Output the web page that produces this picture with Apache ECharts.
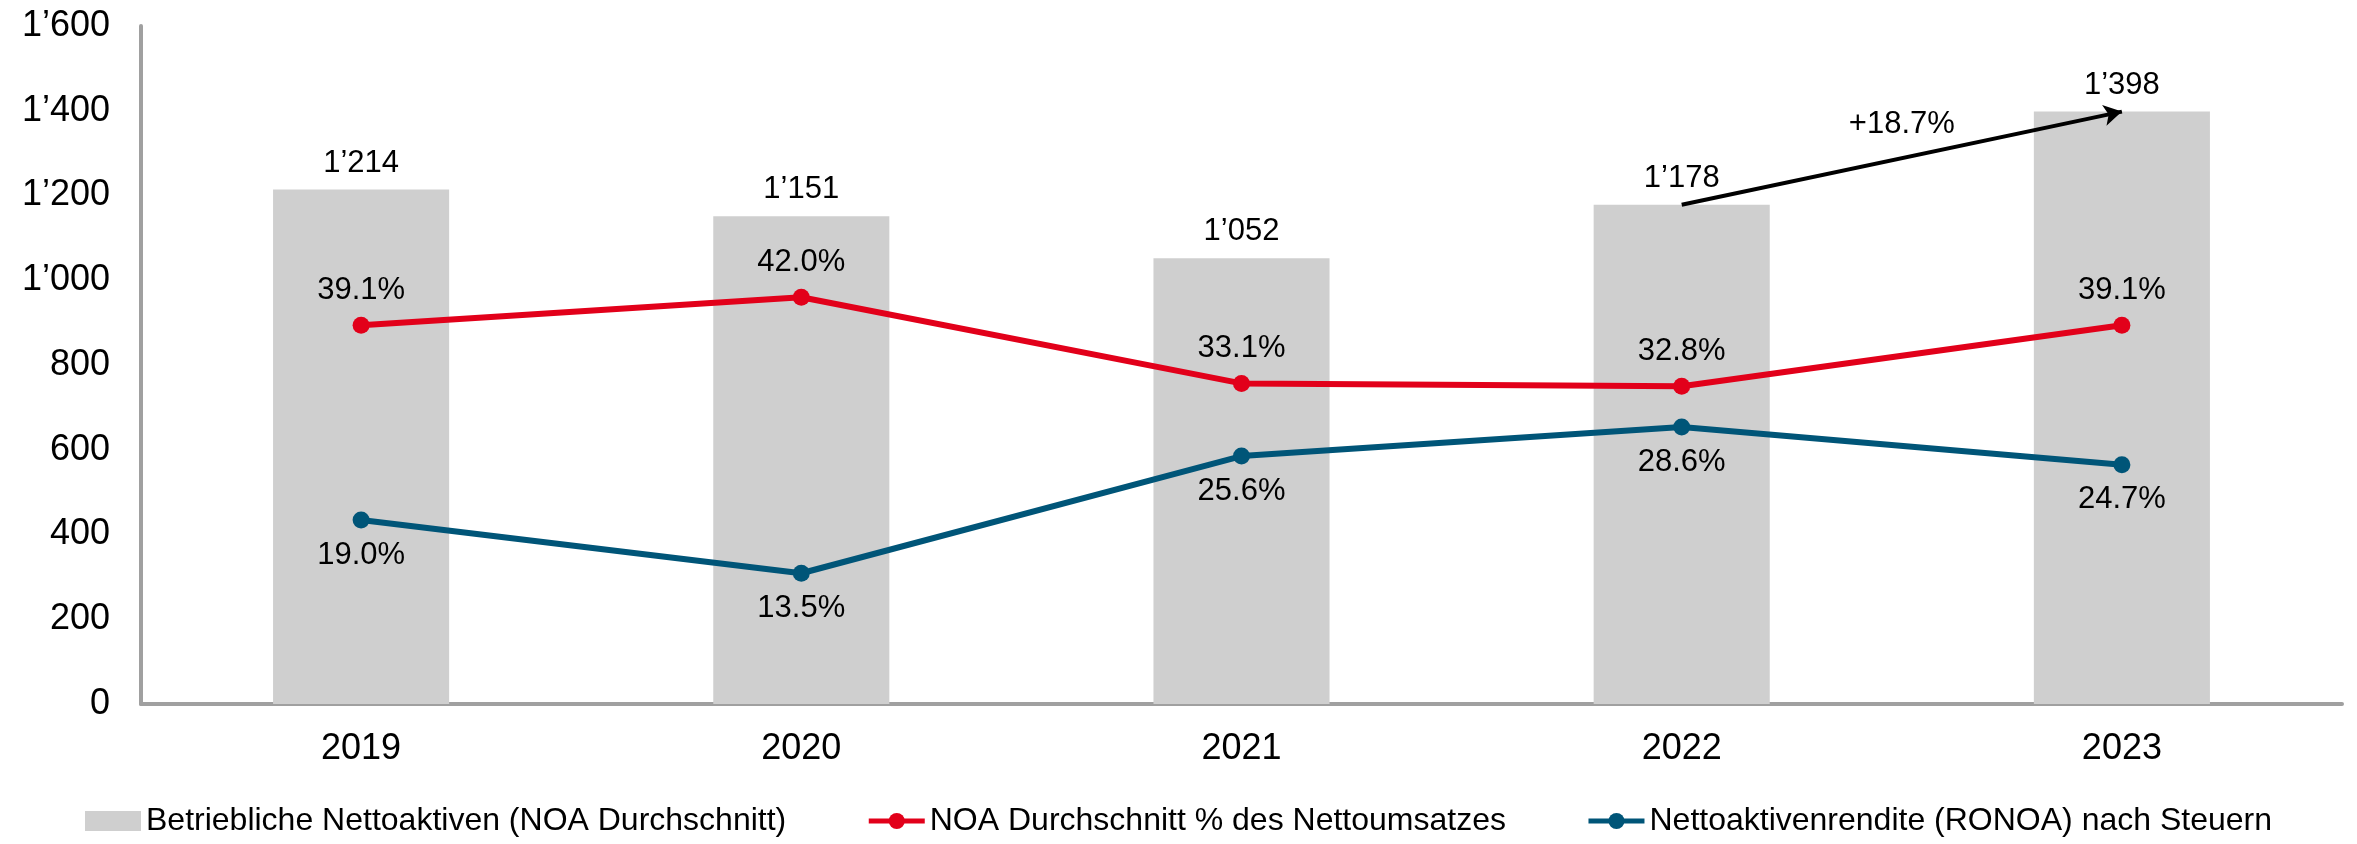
<!DOCTYPE html>
<html>
<head>
<meta charset="utf-8">
<script src="https://cdn.jsdelivr.net/npm/echarts@6/dist/echarts.min.js"></script>
<style>
html, body { margin: 0; padding: 0; background: #fff; }
#main { width: 2357px; height: 844px; }
</style>
</head>
<body>
<div id="main"></div>
<script>
// Jahre
var years = ['2019', '2020', '2021', '2022', '2023'];
// Betriebliche Nettoaktiven (NOA Durchschnitt)
var noaValues = [1214, 1151, 1052, 1178, 1398];
// NOA Durchschnitt % des Nettoumsatzes
var noaPctValues = [39.1, 42.0, 33.1, 32.8, 39.1];
// Nettoaktivenrendite (RONOA) nach Steuern
var ronoaValues = [19.0, 13.5, 25.6, 28.6, 24.7];
// Wachstum 2022 -> 2023
var growthLabel = '+18.7%';

var seriesNames = [
    'Betriebliche Nettoaktiven (NOA Durchschnitt)',
    'NOA Durchschnitt % des Nettoumsatzes',
    'Nettoaktivenrendite (RONOA) nach Steuern'
];

var FONT = '"Liberation Sans", Arial, sans-serif';
var RED = '#e2001a';
var BLUE = '#005578';
var GREY = '#cfcfcf';
var AXIS = '#a0a0a0';

//Tausendertrennzeichen
function fmt(v) {
    if (v >= 1000) {
        return Math.floor(v / 1000) + '\u2019' + String(v % 1000).padStart(3, '0');
    }
    return String(v);
}

function pct(p) {
    return p.value.toFixed(1) + '%';
}

var chart = echarts.init(document.getElementById('main'));

var option = {
    animation: false,
    textStyle: { fontFamily: FONT, color: '#000' },
    grid: { left: 141, right: 15, top: 26, bottom: 140, containLabel: false },
    legend: {
        bottom: 2,
        left: 'center',
        itemWidth: 56,
        itemHeight: 20,
        itemGap: 80,
        textStyle: { fontSize: 32, color: '#000', fontFamily: FONT },
        data: [
            { name: seriesNames[0], icon: 'rect' },
            { name: seriesNames[1], lineStyle: { width: 5 } },
            { name: seriesNames[2], lineStyle: { width: 5 } }
        ]
    },
    xAxis: {
        type: 'category',
        data: years,
        axisLine: { lineStyle: { color: AXIS, width: 4 } },
        axisTick: { show: false },
        axisLabel: { fontSize: 36, color: '#000', margin: 27, fontFamily: FONT }
    },
    yAxis: [{
        type: 'value',
        min: 0,
        max: 1600,
        interval: 200,
        splitLine: { show: false },
        axisLine: { show: true, lineStyle: { color: AXIS, width: 4 } },
        axisTick: { show: false },
        axisLabel: { fontSize: 36, color: '#000', margin: 31, fontFamily: FONT, formatter: fmt }
    }, {
        type: 'value',
        min: 0,
        max: 70,
        show: false,
        splitLine: { show: false }
    }],
    series: [{
        name: seriesNames[0],
        type: 'bar',
        data: noaValues,
        barWidth: '40%',
        itemStyle: { color: GREY },
        label: {
            show: true, position: 'top', distance: 11,
            fontSize: 31, color: '#000', fontFamily: FONT,
            formatter: function (p) { return fmt(p.value); }
        },
        markLine: {
            silent: true,
            symbol: ['none', 'arrow'],
            symbolSize: [16, 18],
            label: { show: false },
            lineStyle: { color: '#000', width: 4, type: 'solid' },
            data: [[
                { coord: [years[3], noaValues[3]] },
                { coord: [years[4], noaValues[4]] }
            ]]
        },
        z: 1
    }, {
        name: seriesNames[1],
        type: 'line',
        yAxisIndex: 1,
        data: noaPctValues,
        symbol: 'circle',
        symbolSize: 17,
        lineStyle: { color: RED, width: 6 },
        itemStyle: { color: RED },
        label: {
            show: true, position: 'top', distance: 11,
            fontSize: 31, color: '#000', fontFamily: FONT, formatter: pct
        },
        z: 3
    }, {
        name: seriesNames[2],
        type: 'line',
        yAxisIndex: 1,
        data: ronoaValues,
        symbol: 'circle',
        symbolSize: 17,
        lineStyle: { color: BLUE, width: 6 },
        itemStyle: { color: BLUE },
        label: {
            show: true, position: 'bottom', distance: 11,
            fontSize: 31, color: '#000', fontFamily: FONT, formatter: pct
        },
        z: 3
    }]
};

chart.setOption(option);

//Beschriftung über der Mitte des Pfeils
var a = chart.convertToPixel({ seriesIndex: 0 }, [3, noaValues[3]]);
var b = chart.convertToPixel({ seriesIndex: 0 }, [4, noaValues[4]]);
chart.setOption({
    graphic: [{
        type: 'text',
        x: (a[0] + b[0]) / 2,
        y: (a[1] + b[1]) / 2 - 34,
        style: {
            text: growthLabel, fontSize: 31, fontFamily: FONT, fill: '#000',
            align: 'center', verticalAlign: 'middle'
        }
    }]
});
</script>
</body>
</html>
